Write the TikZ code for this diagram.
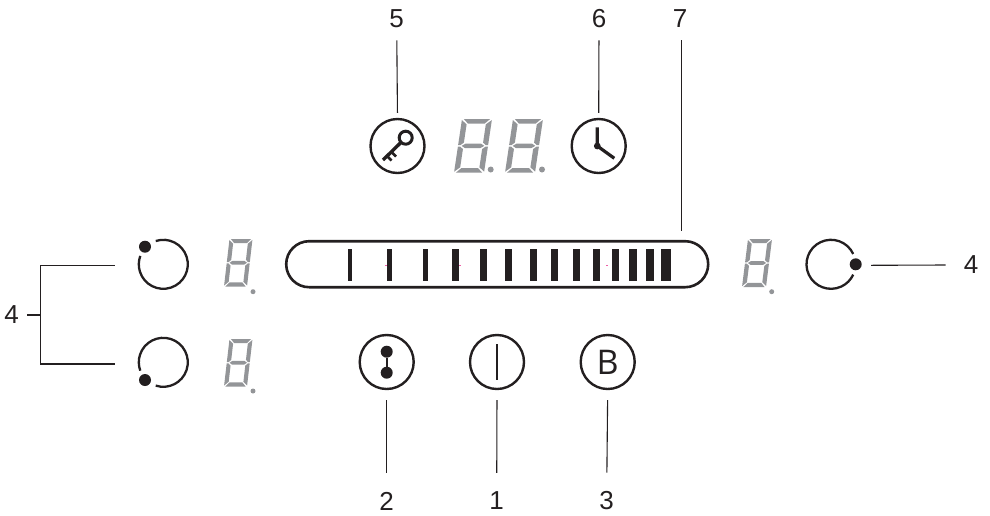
\documentclass[tikz,border=0pt]{standalone}
\usepackage{fontspec}
\setmainfont{Liberation Sans}
\newfontfamily\btnfont{Open Sans}
\definecolor{ink}{HTML}{231F20}
\definecolor{seg}{HTML}{939598}
\definecolor{speck}{HTML}{EE5FA7}
\newcommand{\segdigit}[5]{% x y width height slant
  \begin{scope}[shift={(#1+#5,#2)},x={(#3 pt,0pt)},y={(-#5/2 pt,-#4/2 pt)}]
    \fill[seg] (.06,0)--(.94,0)--(.78,.17)--(.22,.17)--cycle;
    \fill[seg] (.06,2)--(.94,2)--(.78,1.83)--(.22,1.83)--cycle;
    \fill[seg] (.12,1)--(.24,.92)--(.76,.92)--(.88,1)--(.76,1.08)--(.24,1.08)--cycle;
    \fill[seg] (0,.04)--(.18,.2)--(.18,.88)--(.08,.97)--(0,.97)--cycle;
    \fill[seg] (1,.04)--(.82,.2)--(.82,.88)--(.92,.97)--(1,.97)--cycle;
    \fill[seg] (0,1.96)--(.18,1.8)--(.18,1.12)--(.08,1.03)--(0,1.03)--cycle;
    \fill[seg] (1,1.96)--(.82,1.8)--(.82,1.12)--(.92,1.03)--(1,1.03)--cycle;
  \end{scope}}
\tikzset{
  btn/.style={circle,draw=ink,line width=2.4pt,minimum size=54pt,inner sep=0pt,text=ink},
  rotary/.style={circle,minimum size=49pt,inner sep=0pt},
  ring/.style={draw=ink,line width=2.3pt},
  dotmark/.style={circle,fill=ink,inner sep=0pt,minimum size=#1},
  lead/.style={draw=ink,line width=1.1pt},
  numlabel/.style={font=\fontsize{26}{26}\selectfont,text=ink,inner sep=0pt},
  sliderbox/.style={draw=ink,line width=2.6pt,rounded corners=23pt,minimum width=422pt,minimum height=46pt,inner sep=0pt},
  barmark/.style={fill=ink}
}
\begin{document}
\begin{tikzpicture}[x=1pt,y=-1pt]
\useasboundingbox (0,0) rectangle (990,515);
% labels
\node[numlabel] (n5) at (396.7,18.5) {5};
\node[numlabel] (n6) at (599,18.5) {6};
\node[numlabel] (n7) at (680,18.5) {7};
\node[numlabel] (n2) at (386.7,501) {2};
\node[numlabel] (n1) at (496.7,501) {1};
\node[numlabel] (n3) at (606.7,501) {3};
\node[numlabel] (n4l) at (11.7,315) {4};
\node[numlabel] (n4r) at (971,265) {4};
% buttons
\node[btn] (key) at (397.5,146) {};
\node[btn] (clock) at (598.7,146) {};
\node[btn] (link) at (386.7,362) {};
\node[btn] (power) at (497,362) {};
\node[btn,font=\btnfont\fontsize{34}{34}\selectfont] (boost) at (607.7,362) {B};
% key glyph
\draw[ink,line width=3pt] (405.7,137.7) circle (6.5);
\draw[ink,line width=3.4pt] (401,142.4) -- (383,160);
\draw[ink,line width=2.8pt] (386.5,155.5) -- (391.5,160.5);
\draw[ink,line width=2.8pt] (391,151.5) -- (396,156.5);
% clock glyph
\draw[ink,line width=3.2pt,line join=round] (597.3,127.3) -- (597.3,146) -- (614.3,158.3);
\fill[ink] (597.3,146) circle (3.4);
% link glyph
\node[dotmark=12pt] (la) at (386.7,351.7) {};
\node[dotmark=12pt] (lb) at (386.7,372.7) {};
\draw[ink,line width=2.4pt] (la) -- (lb);
% power glyph
\draw[ink,line width=2.6pt] (497,344) -- (497,380);
% rotary controls
\node[rotary] (rotA) at (163.3,264.3) {};
\node[rotary] (rotB) at (163.3,362.3) {};
\node[rotary] (rotC) at (831,264.3) {};
\draw[ring] ([shift={(-108:24.5)}]rotA.center) arc[start angle=-108,end angle=200,radius=24.5];
\draw[ring] ([shift={(108:24.5)}]rotB.center) arc[start angle=108,end angle=-200,radius=24.5];
\draw[ring] ([shift={(-25:24.5)}]rotC.center) arc[start angle=-25,end angle=-335,radius=24.5];
\node[dotmark=12pt] (da) at (145,246.7) {};
\node[dotmark=12pt] (db) at (145,380) {};
\node[dotmark=12pt] (dc) at (855.7,264.3) {};
% displays
\segdigit{454}{119}{30}{53.7}{8}
\segdigit{505}{119}{30}{53.7}{8}
\fill[seg] (490.7,169.5) circle (3);
\fill[seg] (542,169.5) circle (3);
\segdigit{224}{239}{23}{47.5}{5.5}
\segdigit{224}{339}{23}{47.5}{5.5}
\segdigit{742}{239}{24}{48}{6}
\fill[seg] (253,291.7) circle (2.5);
\fill[seg] (253,391) circle (2.5);
\fill[seg] (771.7,291.7) circle (2.5);
% slider
\node[sliderbox] (slider) at (497.2,264.2) {};
\foreach \a/\b in {348/352,387/392,423/428,452/459,480/487,505/512,530/537,551/558,573/580,593/600,612/619,629/637,646/654,661/671}
  \fill[barmark] (\a,249) rectangle (\b,280.7);
\fill[speck] (385,264.5) rectangle (387,266);
\fill[speck] (459,264.5) rectangle (461,266);
\fill[speck] (606,264.5) rectangle (608,266);
% leader lines
\coordinate (ta) at (114.7,265.7);
\coordinate (tb) at (114.7,364);
\coordinate (jt) at (40.7,265.7);
\coordinate (jb) at (40.7,364);
\coordinate (jm) at (40.7,315);
\coordinate (tr) at (871,265.3);
\coordinate (t7) at (681.3,231);
\coordinate (s7) at (681.3,40);
\draw[lead] (ta) -- (jt) -- (jb) -- (tb);
\draw[lead] ([xshift=8pt]n4l.east) -- (jm);
\draw[lead] (tr) -- ([xshift=-18pt]n4r.west);
\draw[lead,shorten <=12.5pt,shorten >=5pt] (n5.south) -- (key.north);
\draw[lead,shorten <=12.5pt,shorten >=5pt] (n6.south) -- (clock.north);
\draw[lead] (s7) -- (t7);
\draw[lead,shorten <=10pt,shorten >=19pt] (link.south) -- (n2.north);
\draw[lead,shorten <=10pt,shorten >=19pt] (power.south) -- (n1.north);
\draw[lead,shorten <=10pt,shorten >=19pt] (boost.south) -- (n3.north);
\end{tikzpicture}
\end{document}
